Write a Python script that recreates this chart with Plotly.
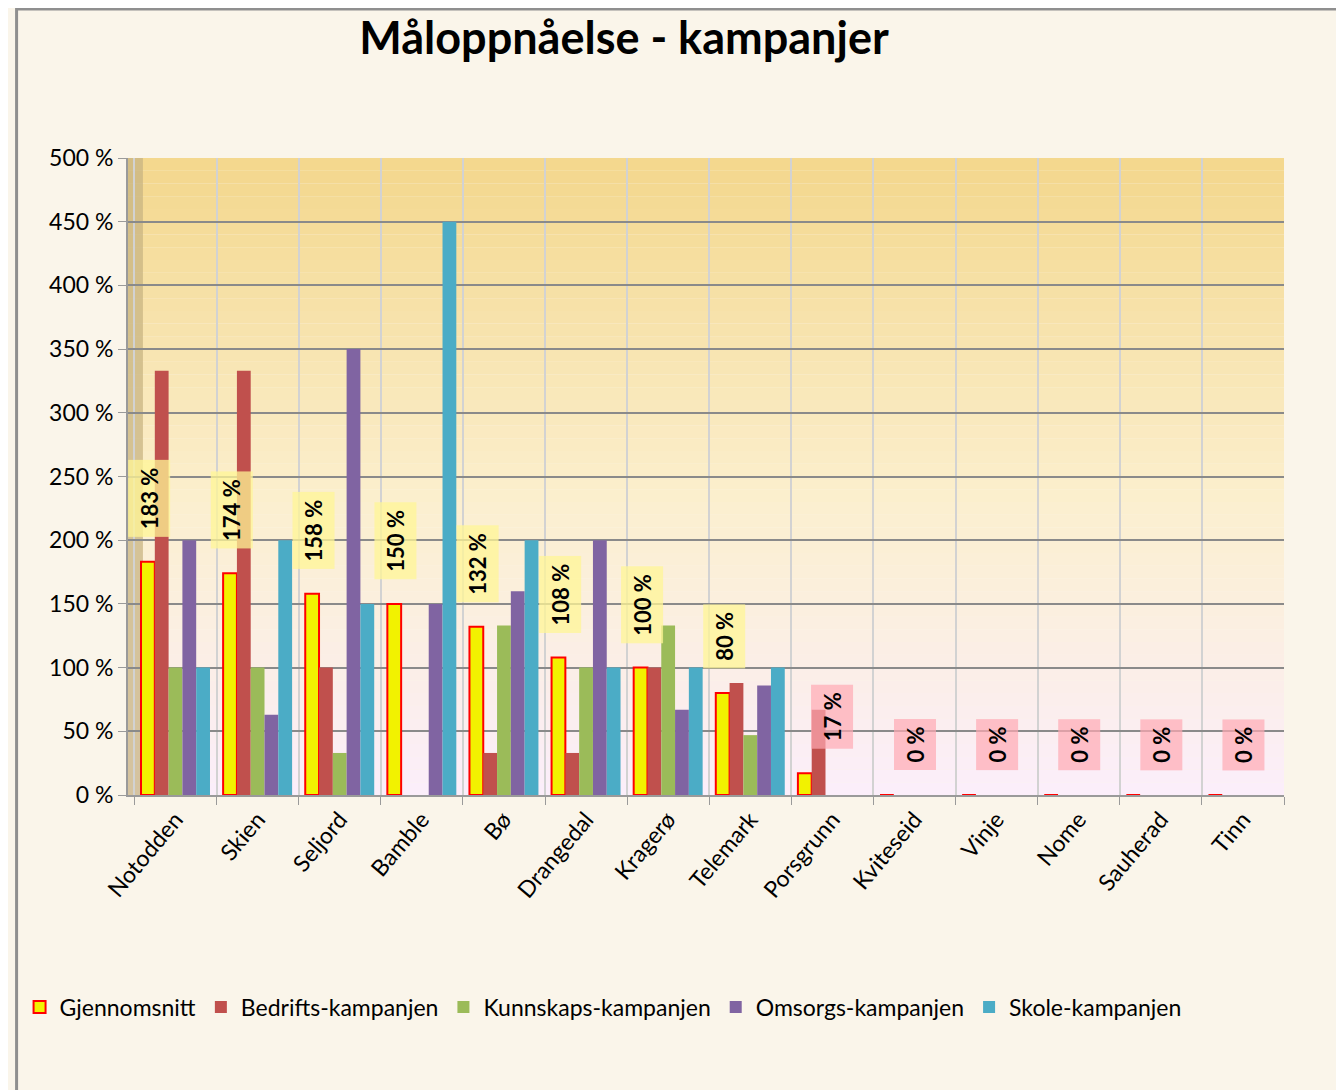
import plotly.graph_objects as go

categories = ["Notodden", "Skien", "Seljord", "Bamble", "Bø", "Drangedal", "Kragerø",
              "Telemark", "Porsgrunn", "Kviteseid", "Vinje", "Nome", "Sauherad", "Tinn"]
gjennomsnitt = [183, 174, 158, 150, 132, 108, 100, 80, 17, 0, 0, 0, 0, 0]
bedrift = [333, 333, 100, 0, 33, 33, 100, 88, 67, 0, 0, 0, 0, 0]
kunnskap = [100, 100, 33, 0, 133, 100, 133, 47, 0, 0, 0, 0, 0, 0]
omsorg = [200, 63, 350, 150, 160, 200, 67, 86, 0, 0, 0, 0, 0, 0]
skole = [100, 200, 150, 450, 200, 100, 100, 100, 0, 0, 0, 0, 0, 0]
y_ticks = list(range(0, 501, 50))
y_tick_labels = ["%d %%" % v for v in y_ticks]

FONT = "Lato"
W, H = 1336, 1082
L, T, PW, PH = 114, 150, 1162, 637

fig = go.Figure()
series = [
    ("Gjennomsnitt", gjennomsnitt, "#f2f200", "#ff0000", 2),
    ("Bedrifts-kampanjen", bedrift, "#c0504d", "#a8413e", 0),
    ("Kunnskaps-kampanjen", kunnskap, "#9bbb59", "#84a248", 0),
    ("Omsorgs-kampanjen", omsorg, "#8064a2", "#6a5089", 0),
    ("Skole-kampanjen", skole, "#4bacc6", "#3a95ad", 0),
]
for name, vals, col, lc, lw in series:
    fig.add_trace(go.Bar(
        x=categories, y=vals, name=name, marker_color=col,
        marker_line_color=lc, marker_line_width=lw,
    ))

# gradient plot-area background
top = (244, 216, 142)
mid = (252, 240, 208)
bot = (251, 238, 250)
n = 50
shapes = []
for i in range(n):
    t = i / (n - 1)
    if t < 0.45:
        a, b, u = bot, mid, t / 0.45
    else:
        a, b, u = mid, top, (t - 0.45) / 0.55
    c = tuple(int(a[k] + (b[k] - a[k]) * u) for k in range(3))
    shapes.append(dict(type="rect", xref="paper", yref="y", x0=0, x1=1,
                       y0=500 * i / n, y1=500 * (i + 1) / n, layer="below",
                       line_width=0, fillcolor="rgb(%d,%d,%d)" % c))
# left side wall
shapes.append(dict(type="rect", xref="paper", yref="y", x0=0, x1=15 / PW, y0=0, y1=500,
                   layer="below", line_width=0, fillcolor="rgba(200,180,130,0.75)"))
# outer frame
shapes.append(dict(type="rect", xref="paper", yref="paper", x0=-(L - 2) / PW,
                   x1=1 + (1330 - L - PW) / PW, y0=-(H - T - PH + 4) / PH, y1=1 + (T - 1) / PH,
                   line=dict(color="#8f8f8f", width=3), layer="below",
                   fillcolor="rgba(0,0,0,0)"))

annotations = []
for i, (c, v) in enumerate(zip(categories, gjennomsnitt)):
    bg = "rgba(255,245,150,0.75)" if v >= 50 else "rgba(255,170,180,0.7)"
    annotations.append(dict(
        x=c, y=v, xref="x", yref="y", text="<b>%d %%</b>" % v, showarrow=False,
        textangle=-90, xshift=-26 if v >= 50 else 0, yanchor="bottom", yshift=24,
        font=dict(family=FONT, size=22, color="black"), bgcolor=bg, borderpad=7,
    ))

fig.update_layout(
    width=W, height=H,
    margin=dict(l=L, r=W - L - PW, t=T, b=H - T - PH),
    paper_bgcolor="#faf5ea",
    plot_bgcolor="rgba(0,0,0,0)",
    barmode="group", bargap=0.16, bargroupgap=0,
    font=dict(family=FONT, size=22, color="black"),
    title=dict(text="<b>Måloppnåelse - kampanjer</b>", xref="container", yref="container",
               x=616 / W, y=1 - 30 / H, xanchor="center", yanchor="middle",
               font=dict(family=FONT, size=45, color="black")),
    shapes=shapes, annotations=annotations,
    legend=dict(orientation="h", x=(5 - L) / PW, y=-(999 - T - PH) / PH,
                xanchor="left", yanchor="middle",
                font=dict(family=FONT, size=23), bgcolor="rgba(0,0,0,0)",
                itemwidth=30, traceorder="normal"),
    xaxis=dict(tickangle=-50, tickson="boundaries", showgrid=True, gridcolor="#d2d2d2",
               gridwidth=2, showline=True, linecolor="#9a9a9a", linewidth=2,
               ticks="outside", ticklen=8, tickcolor="#9a9a9a",
               tickfont=dict(family=FONT, size=23)),
    yaxis=dict(range=[0, 500], tickvals=y_ticks, ticktext=y_tick_labels, showgrid=True,
               gridcolor="#8a8a8a", gridwidth=2, zeroline=False, showline=True,
               linecolor="#9a9a9a", linewidth=2, ticks="outside", ticklen=8,
               tickcolor="#9a9a9a", tickfont=dict(family=FONT, size=23)),
)
fig.write_html("out.html")
